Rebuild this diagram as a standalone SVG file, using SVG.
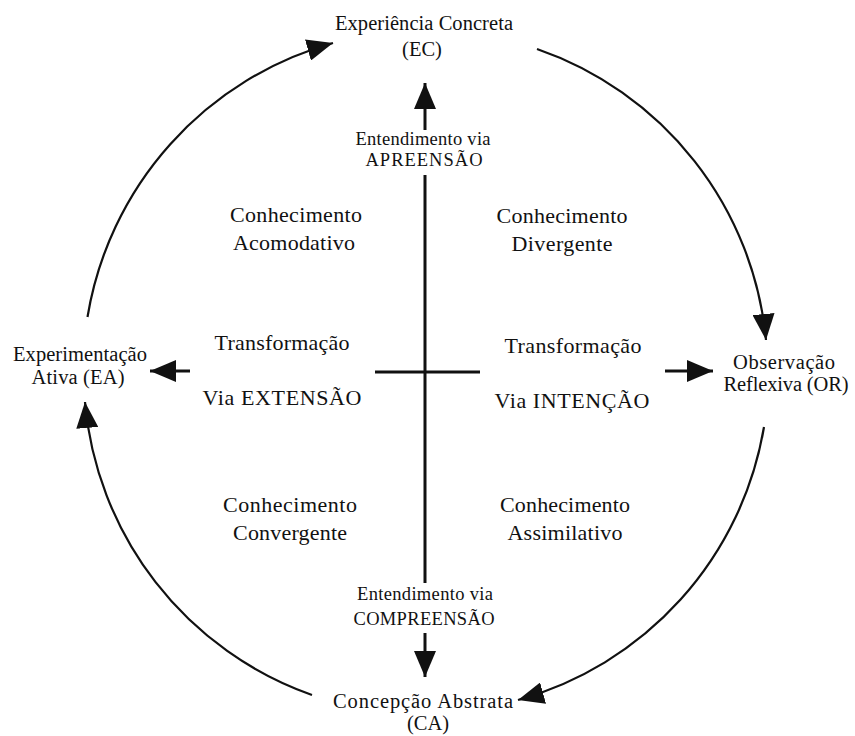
<svg xmlns="http://www.w3.org/2000/svg" width="855" height="736" viewBox="0 0 855 736">
<style>
text{font-family:"Liberation Serif","Times New Roman",serif;fill:#111;text-anchor:middle}
.n{font-size:20.5px}
.q{font-size:22px}
.s{font-size:18.5px}
.arc{fill:none;stroke:#111;stroke-width:2.2}
.ax{fill:none;stroke:#111;stroke-width:3}
</style>
<defs>
<marker id="ah" viewBox="0 0 26 22" refX="26" refY="11" markerWidth="26" markerHeight="22" markerUnits="userSpaceOnUse" orient="auto">
<path d="M0 0 L26 11 L0 22 Z" fill="#111"/>
</marker>
</defs>
<rect width="855" height="736" fill="#fff"/>
<g id="connectors">
<path class="arc" d="M87.5 317 A342 342 0 0 1 333 43" marker-end="url(#ah)"/>
<path class="arc" d="M537 49 A342 342 0 0 1 766 340" marker-end="url(#ah)"/>
<path class="arc" d="M764 427 A342 342 0 0 1 518 700" marker-end="url(#ah)"/>
<path class="arc" d="M312 695 A342 342 0 0 1 85 402" marker-end="url(#ah)"/>
<line class="ax" x1="425" y1="175" x2="425" y2="583"/>
<line class="ax" x1="375" y1="372" x2="480" y2="372"/>
<line class="ax" x1="425" y1="130" x2="425" y2="83" marker-end="url(#ah)"/>
<line class="ax" x1="425" y1="633" x2="425" y2="677" marker-end="url(#ah)"/>
<line class="ax" x1="190" y1="371" x2="150" y2="371" marker-end="url(#ah)"/>
<line class="ax" x1="665" y1="371" x2="713" y2="371" marker-end="url(#ah)"/>
</g>
<g id="EC">
<text class="n" x="424" y="30" textLength="178" lengthAdjust="spacing">Experiência Concreta</text>
<text class="n" x="422" y="56">(EC)</text>
</g>
<g id="OR">
<text class="n" x="784" y="369" textLength="102" lengthAdjust="spacing">Observação</text>
<text class="n" x="786" y="391" textLength="125" lengthAdjust="spacing">Reflexiva (OR)</text>
</g>
<g id="CA">
<text class="n" x="423" y="708" textLength="180" lengthAdjust="spacing">Concepção Abstrata</text>
<text class="n" x="428" y="730">(CA)</text>
</g>
<g id="EA">
<text class="n" x="80" y="361" textLength="134" lengthAdjust="spacing">Experimentação</text>
<text class="n" x="78" y="384" textLength="93" lengthAdjust="spacing">Ativa (EA)</text>
</g>
<g id="apreensao">
<text class="s" x="423" y="145" textLength="135" lengthAdjust="spacing">Entendimento via</text>
<text class="s" x="424" y="166" textLength="117" lengthAdjust="spacing">APREENSÃO</text>
</g>
<g id="compreensao">
<text class="s" x="425" y="600" textLength="136" lengthAdjust="spacing">Entendimento via</text>
<text class="s" x="424" y="625" textLength="141" lengthAdjust="spacing">COMPREENSÃO</text>
</g>
<g id="acomodativo">
<text class="q" x="296" y="222" textLength="132" lengthAdjust="spacing">Conhecimento</text>
<text class="q" x="294" y="250" textLength="122" lengthAdjust="spacing">Acomodativo</text>
</g>
<g id="divergente">
<text class="q" x="562" y="223" textLength="131" lengthAdjust="spacing">Conhecimento</text>
<text class="q" x="562" y="251" textLength="101" lengthAdjust="spacing">Divergente</text>
</g>
<g id="extensao">
<text class="q" x="282" y="350" textLength="135" lengthAdjust="spacing">Transformação</text>
<text class="q" x="282" y="405" textLength="159" lengthAdjust="spacing">Via EXTENSÃO</text>
</g>
<g id="intencao">
<text class="q" x="573" y="353" textLength="137" lengthAdjust="spacing">Transformação</text>
<text class="q" x="572" y="408" textLength="155" lengthAdjust="spacing">Via INTENÇÃO</text>
</g>
<g id="convergente">
<text class="q" x="290" y="512" textLength="134" lengthAdjust="spacing">Conhecimento</text>
<text class="q" x="290" y="540" textLength="114" lengthAdjust="spacing">Convergente</text>
</g>
<g id="assimilativo">
<text class="q" x="565" y="512" textLength="130" lengthAdjust="spacing">Conhecimento</text>
<text class="q" x="565" y="540" textLength="115" lengthAdjust="spacing">Assimilativo</text>
</g>
</svg>
